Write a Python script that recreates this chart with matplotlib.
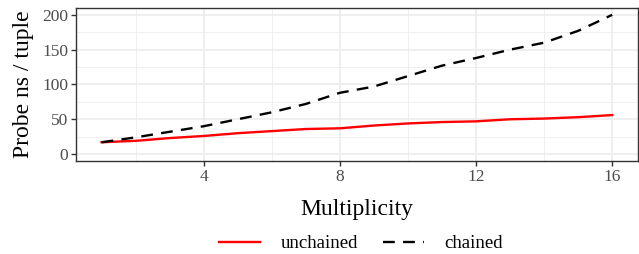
import numpy as np
import matplotlib.pyplot as plt
from matplotlib.ticker import MultipleLocator

plt.rcParams['font.family'] = ['Liberation Serif', 'DejaVu Serif']

multiplicity = np.arange(1, 17)
unchained = [17, 19, 23, 26, 30, 33, 36, 37, 41, 44, 46, 47, 50, 51, 53, 56]
chained = [17, 24, 32, 40, 50, 60, 72, 88, 97, 112, 127, 138, 150, 160, 177, 200]

fig = plt.figure(figsize=(6.39, 2.54), dpi=100)
ax = fig.add_axes([0.119, 0.366, 0.879, 0.603])

ax.plot(multiplicity, unchained, color='#FF0000', lw=1.7, label='unchained', zorder=3)
ax.plot(multiplicity, chained, color='black', lw=1.7, ls=(0, (5, 3.5)), label='chained', zorder=3)

ax.set_xlim(0.25, 16.75)
ax.set_ylim(-10, 210)
ax.xaxis.set_major_locator(MultipleLocator(4))
ax.xaxis.set_minor_locator(MultipleLocator(2))
ax.yaxis.set_major_locator(MultipleLocator(50))
ax.yaxis.set_minor_locator(MultipleLocator(25))
ax.grid(which='major', color='#EBEBEB', lw=1.1)
ax.grid(which='minor', color='#EBEBEB', lw=0.55)
ax.set_axisbelow(True)
ax.tick_params(which='minor', length=0)
ax.tick_params(which='major', length=3.5, width=1, color='#333333',
               labelsize=12.5, labelcolor='#4D4D4D', pad=2)
for s in ax.spines.values():
    s.set_color('#333333')
    s.set_linewidth(1)

ax.set_xlabel('Multiplicity', fontsize=17, labelpad=10)
ax.set_ylabel('Probe ns / tuple', fontsize=17, labelpad=6)

fig.legend(loc='lower center', bbox_to_anchor=(0.565, -0.06), ncol=2, frameon=False,
           fontsize=13.5, handlelength=2.2, columnspacing=1.3, handletextpad=1.1)

fig.savefig('out.png', dpi=100)
